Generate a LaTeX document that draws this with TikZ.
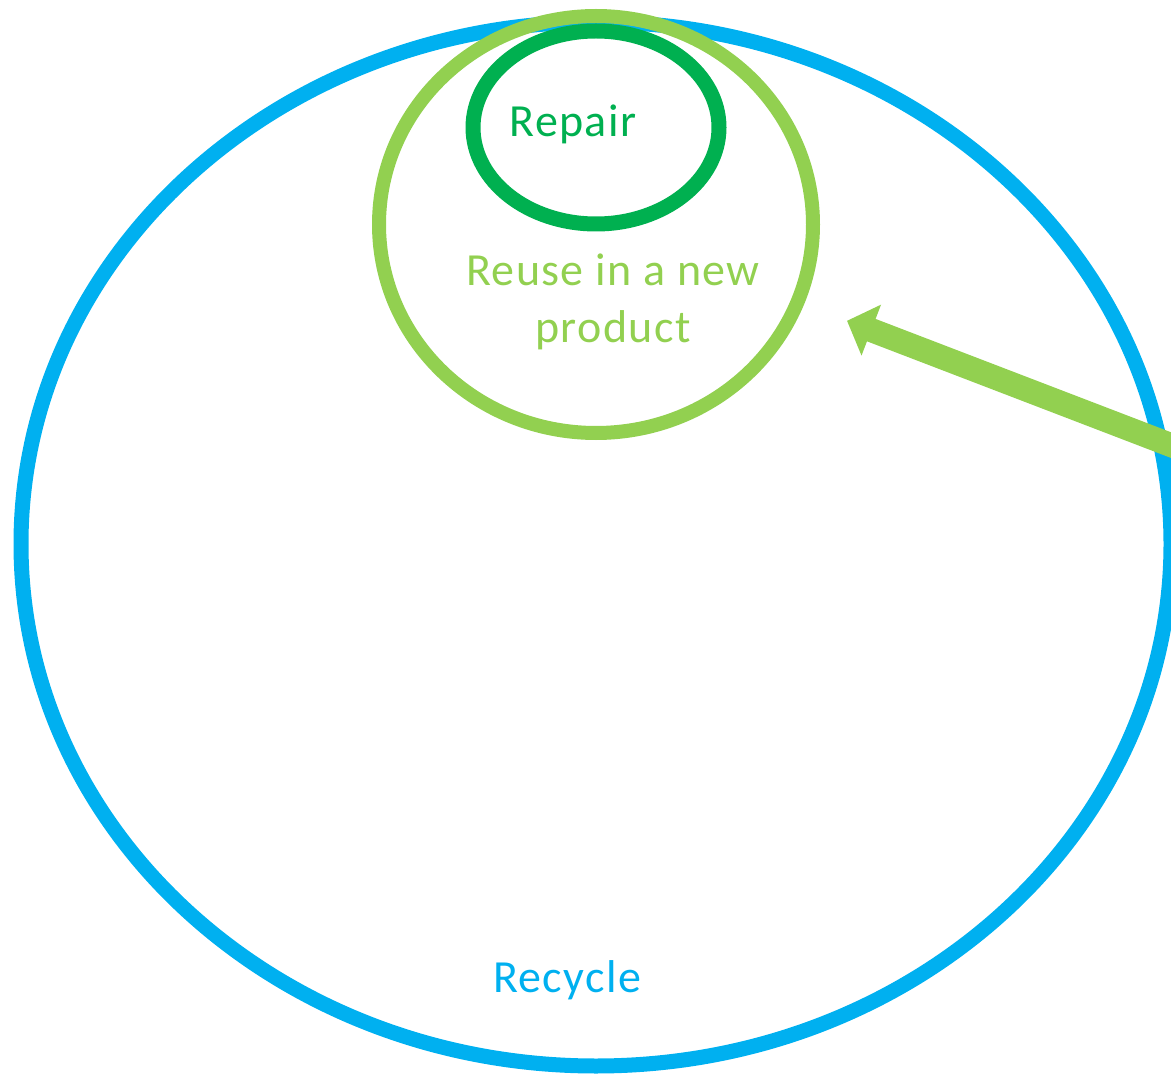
\documentclass[tikz,border=0pt]{standalone}
\usepackage{fontspec}
\setmainfont{Carlito}[LetterSpace=3]
\usepackage{xcolor}
\usetikzlibrary{shapes.geometric,arrows.meta}

\definecolor{recycleblue}{HTML}{00B0F0}
\definecolor{reusegreen}{HTML}{92D050}
\definecolor{repairgreen}{HTML}{00B050}

\begin{document}
\begin{tikzpicture}[x=1pt, y=-1pt,
  ring/.style={ellipse, draw, inner sep=0pt},
  label/.style={font=\fontsize{46}{57}\selectfont, align=center}]
\useasboundingbox (0,0) rectangle (1171,1075);

\node[ring, draw=recycleblue, line width=15pt, minimum width=1150pt, minimum height=1044pt] (recycle) at (596,544) {};
\node[ring, draw=reusegreen, line width=14pt, minimum width=434pt, minimum height=417pt] (reuse) at (596,224.5) {};
\node[ring, draw=repairgreen, line width=15pt, minimum width=246pt, minimum height=193pt] (repair) at (596,127.5) {};

\node[label, text=repairgreen, anchor=base] (repairtext) at (573,137) {Repair};
\node[label, text=reusegreen] (reusetext) at (613,302) {Reuse in a new\\product};
\node[label, text=recycleblue, anchor=base] (recycletext) at (567,992) {Recycle};

% arrow into the reuse ring
\coordinate (arrowtail) at (1190,452.4);
\draw[reusegreen, line width=24pt, -{Triangle[length=26pt, width=53pt]}, shorten >=46pt] (arrowtail) -- (reuse);
\end{tikzpicture}
\end{document}
